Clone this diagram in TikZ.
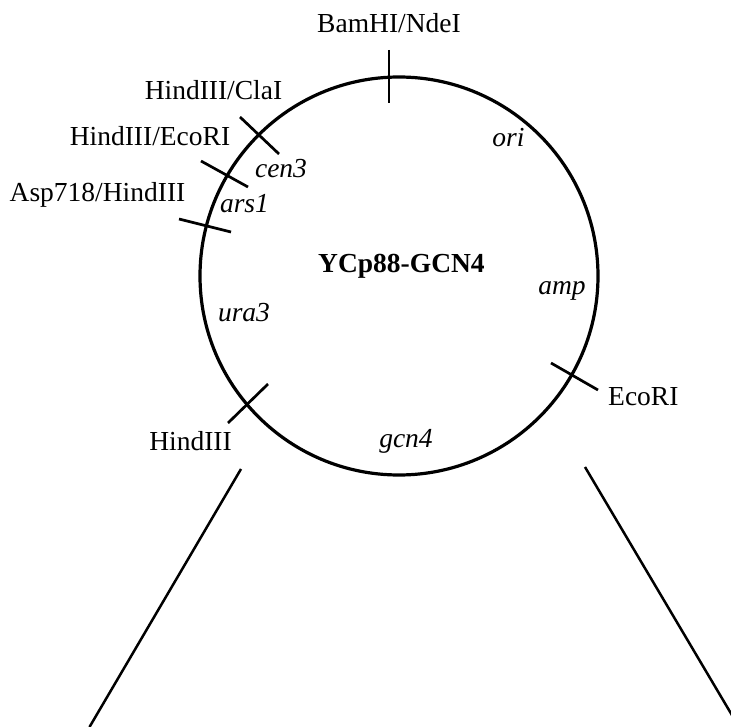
\documentclass[tikz,border=0pt]{standalone}
\usepackage{fontspec}
\setmainfont{Liberation Serif}
\begin{document}
\begin{tikzpicture}[x=1pt,y=-1pt,
  lab/.style={anchor=base, inner sep=0pt, font=\fontsize{27.5}{31}\selectfont},
  gene/.style={anchor=base, inner sep=0pt, font=\fontsize{27.5}{31}\selectfont\itshape},
  cut/.style={line width=2.7pt},
  guide/.style={line width=2.5pt}]
\useasboundingbox (0,0) rectangle (731,727);
\clip (0,0) rectangle (731,727);

% plasmid backbone
\node[circle, draw, line width=3.2pt, minimum size=398pt, inner sep=0pt] (plasmid) at (399,276) {};

% restriction sites
\coordinate (bamA) at (389,50);  \coordinate (bamB) at (389,103);
\coordinate (claA) at (240,117); \coordinate (claB) at (279,154);
\coordinate (ecoA) at (201,161); \coordinate (ecoB) at (248,187);
\coordinate (aspA) at (179,219); \coordinate (aspB) at (231,232);
\coordinate (hinA) at (268,384); \coordinate (hinB) at (228,423);
\coordinate (rieA) at (551,363); \coordinate (rieB) at (598,390);
\draw[cut] (bamA) -- (bamB);
\draw[cut] (claA) -- (claB);
\draw[cut] (ecoA) -- (ecoB);
\draw[cut] (aspA) -- (aspB);
\draw[cut] (hinA) -- (hinB);
\draw[cut] (rieA) -- (rieB);

% site labels
\node[lab] (bam) at (389,33) {BamHI/NdeI};
\node[lab] (cla) at (213.5,100) {HindIII/ClaI};
\node[lab] (eco) at (150,146) {HindIII/EcoRI};
\node[lab] (asp) at (97.5,202) {Asp718/HindIII};
\node[lab, anchor=base east] (hin) at (232,450) {HindIII};
\node[lab, anchor=base west] (rie) at (608,405) {EcoRI};

% genetic elements
\node[gene] (cen) at (281,178) {cen3};
\node[gene] (ars) at (244.5,213) {ars1};
\node[gene] (ori) at (508.5,147) {ori};
\node[gene] (amp) at (562,295) {amp};
\node[gene] (ura) at (244,322) {ura3};
\node[gene] (gcn) at (406,447) {gcn4};

% plasmid name
\node[lab, anchor=base west, font=\fontsize{27.5}{31}\selectfont\bfseries] (name) at (318,273) {YCp88-GCN4};

% expansion lines below the map
\coordinate (lt) at (241,469); \coordinate (lb) at (89.5,727);
\coordinate (rt) at (585,467); \coordinate (rb) at (739,727);
\draw[guide] (lt) -- (lb);
\draw[guide] (rt) -- (rb);
\end{tikzpicture}
\end{document}
